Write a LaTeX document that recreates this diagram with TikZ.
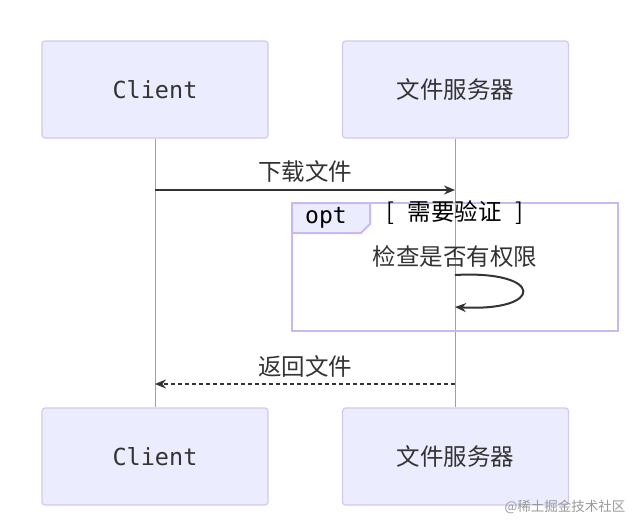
\documentclass[tikz,border=0pt]{standalone}
\usepackage{fontspec}
\setmainfont{Noto Sans CJK SC}
\newfontfamily\cjk{Noto Sans CJK SC}
\newfontfamily\monof{DejaVu Sans Mono}
\usetikzlibrary{arrows.meta}
\definecolor{actfill}{HTML}{ECECFF}
\definecolor{actline}{HTML}{D3C8F0}
\definecolor{optline}{HTML}{C9B8F2}
\definecolor{lifeline}{HTML}{A0A0A0}
\definecolor{txt}{HTML}{333333}
\tikzset{
  actor/.style={draw=actline, fill=actfill, rounded corners=3pt, line width=1.2pt, minimum width=226pt, minimum height=97pt, inner sep=0pt, text=txt},
  life/.style={draw=lifeline, line width=1pt},
  msg/.style={draw=txt, line width=2pt, -{Stealth[length=11pt,width=9pt]}},
  dmsg/.style={draw=txt, line width=2pt, dash pattern=on 4pt off 3pt, -{Stealth[length=11pt,width=9pt]}},
  lbl/.style={font=\cjk\fontsize{23.5}{26}\selectfont, text=txt, inner sep=0pt},
}
\begin{document}
\begin{tikzpicture}[x=1pt,y=-1pt]
\useasboundingbox[fill=white] (0,0) rectangle (640,531);
% actors
\node[actor, font=\monof\fontsize{23.5}{26}\selectfont] (c1) at (155,89.5) {Client};
\node[actor, font=\cjk\fontsize{23.5}{26}\selectfont] (s1) at (455.5,89.5) {文件服务器};
\node[actor, font=\monof\fontsize{23.5}{26}\selectfont] (c2) at (155,456.5) {Client};
\node[actor, font=\cjk\fontsize{23.5}{26}\selectfont] (s2) at (455.5,456.5) {文件服务器};
% lifelines
\draw[life] (c1.south) -- (c2.north);
\draw[life] (s1.south) -- (s2.north);
% message 1
\coordinate (m1a) at (155,190);
\coordinate (m1b) at (455,190);
\draw[msg] (m1a) -- (m1b);
\node[lbl] (l1) at (305,172) {下载文件};
% opt frame
\coordinate (o1) at (292,203);
\coordinate (o2) at (618,331);
\draw[draw=optline, line width=2pt] (o1) rectangle (o2);
\path[fill=actfill, draw=optline, line width=2pt] (292,203) -- (370,203) -- (370,224) -- (361,233) -- (292,233) -- cycle;
\node[font=\monof\fontsize{23}{26}\selectfont, text=black, inner sep=0pt] (optl) at (326,218) {opt};
\node[lbl, text=black] (cond) at (455,213) {[\hspace{14pt}需要验证\hspace{14pt}]};
% self message
\node[lbl] (l2) at (455,257) {检查是否有权限};
\coordinate (sa) at (455,275);
\coordinate (sb) at (455,307);
\draw[msg] (sa) .. controls (545,270) and (545,312) .. (sb);
% return
\coordinate (m2a) at (455,384);
\coordinate (m2b) at (155,384);
\draw[dmsg] (m2a) -- (m2b);
\node[lbl] (l3) at (305,366) {返回文件};
% watermark
\node[font=\cjk\fontsize{13.5}{15}\selectfont, text=black!40, inner sep=0pt] (wm) at (565,507) {@稀土掘金技术社区};
\end{tikzpicture}
\end{document}
